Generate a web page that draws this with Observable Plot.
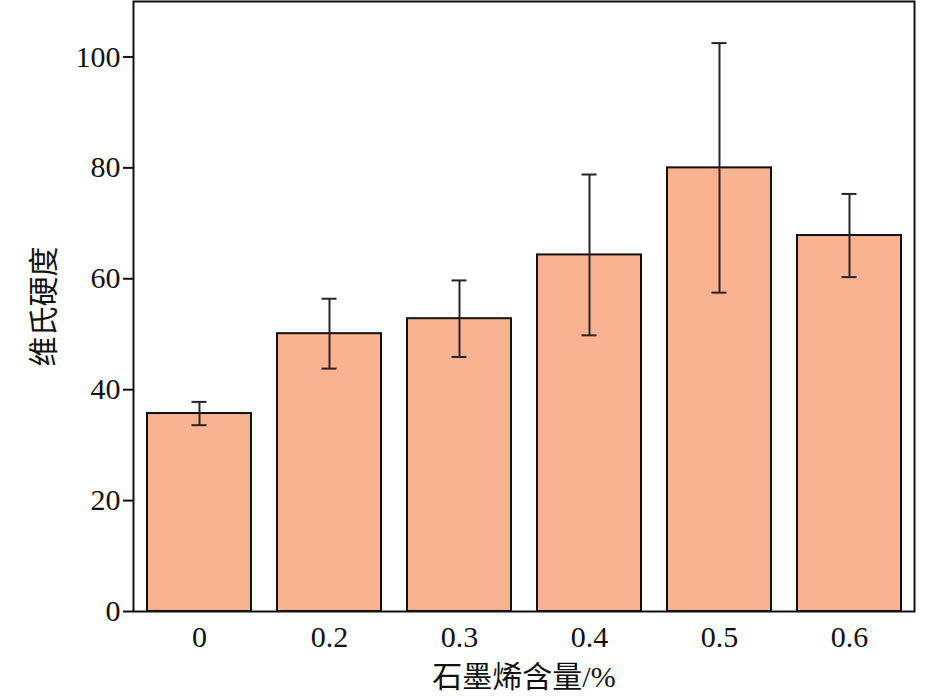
<!DOCTYPE html>
<html>
<head>
<meta charset="utf-8">
<script src="https://cdn.jsdelivr.net/npm/d3@7"></script>
<script src="https://cdn.jsdelivr.net/npm/@observablehq/plot@0.6"></script>
<style>
  html, body { margin: 0; padding: 0; background: #fff; }
  #chart svg { display: block; }
</style>
</head>
<body>
<div id="chart"></div>
<script>
const categories = ["0", "0.2", "0.3", "0.4", "0.5", "0.6"];
const hardness = [35.7, 50.1, 52.8, 64.3, 80.0, 67.8];
const errors = [2.1, 6.3, 6.9, 14.5, 22.5, 7.5];
const yTicks = [0, 20, 40, 60, 80, 100];

const data = categories.map((c, i) => ({
  cat: c,
  v: hardness[i],
  lo: hardness[i] - errors[i],
  hi: hardness[i] + errors[i]
}));

const font = "'Liberation Serif', 'Times New Roman', 'Noto Sans CJK SC', serif";

const chart = Plot.plot({
  width: 945,
  height: 697,
  marginLeft: 133,
  marginRight: 31,
  marginTop: 1,
  marginBottom: 86,
  style: { fontFamily: font, fontSize: "30px", color: "#111", background: "#fff" },
  x: { domain: categories, paddingInner: 0.2, paddingOuter: 0.1 },
  y: { domain: [0, 110] },
  marks: [
    Plot.barY(data, { x: "cat", y: "v", fill: "#F9B391", stroke: "#111", strokeWidth: 2 }),
    Plot.ruleX(data, { x: "cat", y1: "lo", y2: "hi", stroke: "#2a2228", strokeWidth: 2 }),
    Plot.tickY(data, { x: "cat", y: "lo", stroke: "#2a2228", strokeWidth: 2, insetLeft: 44.5, insetRight: 44.5 }),
    Plot.tickY(data, { x: "cat", y: "hi", stroke: "#2a2228", strokeWidth: 2, insetLeft: 44.5, insetRight: 44.5 }),
    Plot.frame({ stroke: "#111", strokeWidth: 2 }),
    Plot.axisY({ ticks: yTicks, tickSize: 10, tickPadding: 3, strokeWidth: 2,
      label: "维氏硬度", labelAnchor: "center", labelArrow: "none", labelOffset: 101 }),
    Plot.axisX({ tickSize: 0, tickPadding: 14,
      label: "石墨烯含量/%", labelAnchor: "center", labelArrow: "none", labelOffset: 75 })
  ]
});
document.getElementById("chart").appendChild(chart);
</script>
</body>
</html>
